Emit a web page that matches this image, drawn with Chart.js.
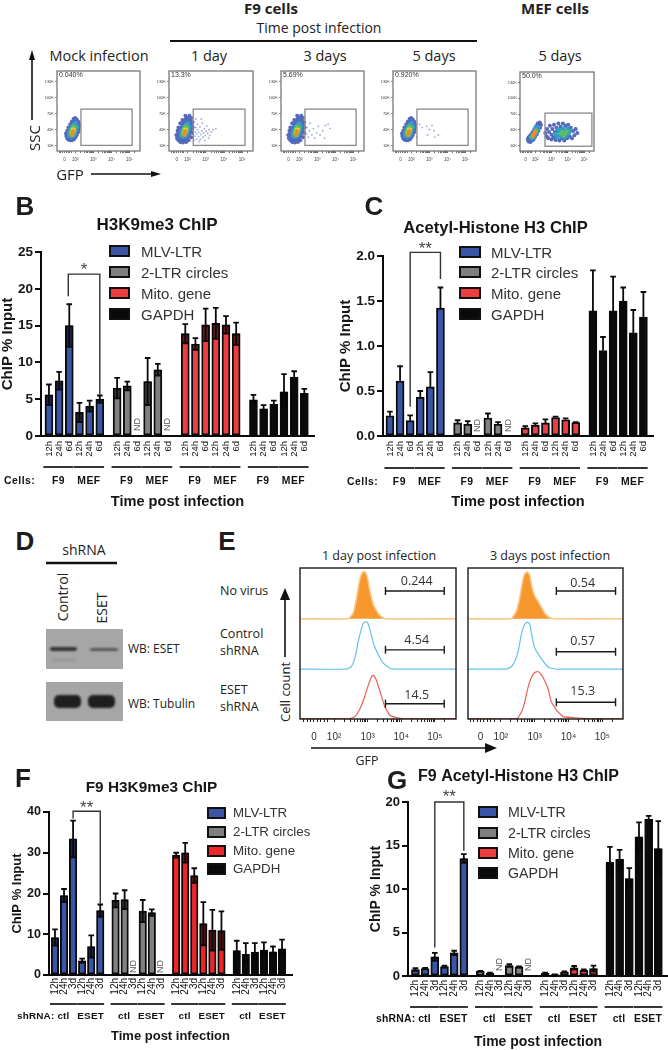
<!DOCTYPE html>
<html>
<head>
<meta charset="utf-8">
<title>ChIP and flow panels</title>
<script src="https://cdn.jsdelivr.net/npm/chart.js@4"></script>
<style>
    html, body { margin: 0; padding: 0; background: #fff; }
    #page { position: relative; width: 668px; height: 1050px; overflow: hidden; background: #fff; }
    #page canvas { position: absolute; }
    #page svg { position: absolute; left: 0; top: 0; }
    .t { position: absolute; white-space: nowrap; color: #222; font-family: "Open Sans", sans-serif; line-height: 1; }
    .swatch { position: absolute; box-sizing: border-box; border: 2px solid #111; }
    .blot { position: absolute; background: #a6a6a6; }
    .band { position: absolute; background: #222; filter: blur(1.2px); }
</style>
</head>
<body>
<div id="page"></div>
<script>
// ============================================
// DATA
// ============================================

const seriesNames = ['MLV-LTR', '2-LTR circles', 'Mito. gene', 'GAPDH'];

// Panel B - H3K9me3 ChIP
const bMlv = [5.6, 7.5, 15.0, 3.2, 4.05, 5.0];
const bMlvErr = [1.4, 1.2, 2.9, 1.3, 0.75, 0.5];
const bLtr = [6.5, 6.8, null, 7.4, 9.0, null];
const bLtrErr = [1.4, 0.6, null, 3.2, 0.8, null];
const bMito = [13.9, 12.5, 15.1, 15.3, 15.1, 13.9];
const bMitoErr = [1.3, 0.8, 2.2, 2.1, 1.2, 1.5];
const bGapdh = [4.9, 3.7, 4.3, 6.0, 8.0, 5.8];
const bGapdhErr = [0.7, 0.5, 0.5, 2.4, 0.8, 0.6];

// Panel C - Acetyl-Histone H3 ChIP
const cMlv = [0.225, 0.61, 0.17, 0.43, 0.545, 1.42];
const cMlvErr = [0.045, 0.165, 0.06, 0.07, 0.165, 0.23];
const cLtr = [0.145, 0.13, null, 0.2, 0.13, null];
const cLtrErr = [0.03, 0.035, null, 0.05, 0.025, null];
const cMito = [0.09, 0.12, 0.145, 0.205, 0.18, 0.15];
const cMitoErr = [0.02, 0.02, 0.04, 0.01, 0.015, 0.005];
const cGapdh = [1.39, 0.95, 1.39, 1.5, 1.145, 1.32];
const cGapdhErr = [0.45, 0.15, 0.38, 0.15, 0.255, 0.28];

// Panel F - F9 H3K9me3 ChIP
const fMlv = [9.2, 19.5, 33.4, 3.5, 7.0, 15.8];
const fMlvErr = [2.0, 1.6, 4.5, 0.5, 2.7, 1.5];
const fLtr = [18.3, 18.5, null, 15.7, 15.3, null];
const fLtrErr = [1.7, 2.3, null, 2.7, 0.8, null];
const fMito = [29.4, 30.0, 24.4, 12.6, 11.0, 10.9];
const fMitoErr = [0.6, 2.4, 1.8, 5.3, 5.0, 4.7];
const fGapdh = [6.0, 5.1, 5.6, 6.1, 5.7, 6.4];
const fGapdhErr = [2.4, 2.7, 2.2, 1.9, 1.3, 2.3];

// Panel G - F9 Acetyl-Histone H3 ChIP
const gMlv = [0.75, 0.85, 2.2, 1.08, 2.65, 13.5];
const gMlvErr = [0.15, 0.07, 0.45, 0.12, 0.25, 0.5];
const gLtr = [0.55, 0.3, null, 1.2, 1.05, null];
const gLtrErr = [0.05, 0.08, null, 0.15, 0.05, null];
const gMito = [0.3, 0.15, 0.45, 0.95, 0.65, 0.85];
const gMitoErr = [0.08, 0.03, 0.07, 0.2, 0.1, 0.35];
const gGapdh = [13.1, 13.4, 11.2, 16.0, 18.0, 14.65];
const gGapdhErr = [1.75, 1.1, 1.2, 1.65, 0.4, 3.15];

const timeLabels6d = ['12h', '24h', '6d', '12h', '24h', '6d'];
const timeLabels3d = ['12h', '24h', '3d', '12h', '24h', '3d'];

// Panel E - histogram traces, x is log10 of GFP
const day1NoVirusX = [2.42, 2.57, 2.67, 2.77, 2.85, 2.92, 2.99, 3.07, 3.17, 3.32, 3.51];
const day1NoVirus = [0, 12, 44, 86, 99, 100, 89, 58, 30, 10, 0];
const day1ControlX = [2.39, 2.52, 2.62, 2.72, 2.82, 2.89, 2.99, 3.07, 3.17, 3.32, 3.46, 3.66, 3.81];
const day1Control = [0, 6, 23, 59, 87, 100, 100, 84, 55, 30, 13, 2, 0];
const day1EsetX = [2.47, 2.62, 2.77, 2.89, 3.02, 3.12, 3.17, 3.24, 3.37, 3.51, 3.66, 3.86, 4.11];
const day1Eset = [0, 4, 21, 42, 71, 90, 92, 85, 57, 25, 7, 2, 0];
const day3NoVirusX = [2.31, 2.46, 2.56, 2.64, 2.70, 2.78, 2.85, 2.92, 3.0, 3.15, 3.30, 3.44, 3.59];
const day3NoVirus = [0, 16, 45, 78, 95, 100, 93, 67, 49, 31, 12, 3, 0];
const day3ControlX = [2.16, 2.31, 2.41, 2.51, 2.61, 2.70, 2.78, 2.85, 2.92, 3.0, 3.15, 3.30, 3.44, 3.64];
const day3Control = [0, 5, 16, 37, 75, 95, 100, 97, 70, 45, 27, 12, 3, 0];
const day3EsetX = [2.48, 2.61, 2.70, 2.80, 2.90, 3.0, 3.10, 3.20, 3.30, 3.39, 3.49, 3.64, 3.84, 4.13, 4.58];
const day3Eset = [0, 14, 33, 65, 87, 98, 100, 93, 80, 65, 36, 18, 4, 2, 0];

const gfpTickValues = [1.4, 2, 3, 4, 5];
const gfpTickLabels = ['0', '10²', '10³', '10⁴', '10⁵'];
const gfpMinorTicks = [1.1, 1.2, 1.3, 1.5, 1.6, 1.7, 1.8, 2.3, 2.48, 2.6, 2.7, 2.78, 2.85, 2.9, 2.95, 3.3, 3.48, 3.6, 3.7, 3.78, 3.85, 3.9, 3.95, 4.3, 4.48, 4.6, 4.7, 4.78, 4.85, 4.9, 4.95, 5.3];

// Panel A - flow plots, x is log10 of GFP, y is SSC in thousands
const ssCTickValues = [10, 40, 70, 100, 130];
const percentLabels = ['0.040%', '13.3%', '5.69%', '0.920%', '50.0%'];

const cloudBlue = [[1.50, 28], [1.55, 24], [1.62, 21], [1.72, 20], [1.82, 20], [1.92, 22], [2.0, 26], [2.08, 30], [2.15, 35], [2.18, 40], [2.2, 45], [2.2, 50], [2.16, 55], [2.08, 59], [1.98, 62], [1.9, 60], [1.8, 55], [1.72, 50], [1.62, 44], [1.55, 38], [1.48, 33], [1.6, 30], [1.7, 25], [1.85, 25], [2.0, 33], [2.1, 42], [2.05, 52], [1.9, 52], [1.75, 42], [1.65, 36], [1.95, 57], [2.12, 48], [1.58, 33], [1.78, 23], [1.95, 27], [2.05, 37]];
const cloudCyan = [[1.65, 28], [1.75, 27], [1.88, 28], [1.98, 33], [2.04, 40], [2.08, 46], [2.02, 52], [1.92, 50], [1.82, 46], [1.72, 40], [1.64, 34], [1.85, 35], [1.95, 42]];
const cloudGreen = [[1.75, 31], [1.85, 31], [1.93, 36], [1.97, 43], [1.9, 46], [1.82, 41], [1.75, 36]];
const cloudYellow = [[1.8, 34], [1.88, 36], [1.85, 41], [1.92, 40]];
const cloudOrange = [[1.82, 33], [1.87, 37], [1.85, 30]];
const wideBlue = [[1.38, 30], [1.42, 24], [1.45, 38], [1.5, 20], [1.5, 44], [1.6, 17], [1.6, 52], [1.72, 58], [1.75, 16], [1.88, 66], [1.92, 17], [2.05, 20], [2.1, 66], [2.2, 26], [2.25, 34], [2.28, 44], [2.26, 54], [2.2, 62]];
const day1Tail = [[2.25, 25], [2.3, 32], [2.3, 40], [2.32, 48], [2.35, 55], [2.4, 28], [2.42, 36], [2.45, 44], [2.5, 22], [2.5, 32], [2.55, 40], [2.55, 50], [2.6, 27], [2.62, 35], [2.68, 45], [2.7, 22], [2.72, 31], [2.78, 38], [2.8, 52], [2.85, 26], [2.88, 34], [2.92, 42], [2.98, 29], [3.02, 37], [3.05, 47], [3.1, 33], [3.18, 40], [3.22, 29], [3.3, 36], [3.4, 40], [3.55, 42], [2.35, 20], [2.65, 18], [2.95, 20], [3.15, 24], [2.2, 58], [2.45, 60], [2.75, 60]];
const day3Tail = [[2.25, 28], [2.3, 38], [2.3, 50], [2.4, 32], [2.42, 44], [2.5, 26], [2.55, 38], [2.6, 52], [2.7, 30], [2.78, 42], [2.85, 24], [2.95, 34], [3.05, 46], [3.15, 30], [3.3, 38], [3.45, 48], [3.6, 50], [3.7, 42], [3.4, 24], [2.2, 56]];
const day5Tail = [[2.2, 34], [2.3, 26], [2.45, 50], [2.6, 44], [2.85, 46], [3.0, 40], [3.15, 48], [3.25, 38], [3.3, 26], [2.9, 30], [3.5, 30]];

const mefBlue = [[1.55, 22], [1.6, 18], [1.7, 17], [1.8, 20], [1.9, 22], [2.0, 27], [2.1, 32], [2.2, 38], [2.3, 44], [2.35, 50], [2.28, 54], [2.15, 52], [2.05, 47], [1.95, 42], [1.85, 36], [1.75, 32], [1.65, 28], [1.58, 25], [1.72, 22], [1.85, 26], [2.0, 33], [2.15, 42], [2.25, 48],
    [2.62, 34], [2.7, 28], [2.72, 42], [2.8, 24], [2.85, 36], [2.9, 48], [3.0, 22], [3.0, 31], [3.05, 42], [3.12, 26], [3.15, 50], [3.2, 36], [3.25, 21], [3.3, 44], [3.35, 28], [3.42, 52], [3.48, 20], [3.55, 46], [3.62, 24], [3.7, 52], [3.78, 20], [3.85, 48], [3.95, 24], [4.02, 50], [4.1, 28], [4.18, 44], [4.25, 24], [4.32, 38], [4.4, 30], [4.48, 42], [4.58, 34], [3.35, 37], [3.6, 39]];
const mefCyan = [[1.72, 25], [1.82, 24], [1.92, 27], [2.02, 32], [2.12, 38], [2.18, 44], [2.08, 45], [1.98, 40], [1.85, 32],
    [3.25, 32], [3.35, 26], [3.42, 40], [3.5, 30], [3.55, 36], [3.62, 28], [3.7, 42], [3.78, 26], [3.82, 38], [3.92, 30], [3.98, 42], [4.05, 34], [4.12, 38], [3.7, 31]];
const mefGreen = [[1.82, 28], [1.9, 30], [1.98, 35], [2.05, 39], [3.58, 33], [3.68, 36], [3.75, 30], [3.85, 34], [3.92, 37]];
const mefOrange = [[1.85, 27], [1.9, 31], [1.95, 34], [2.0, 37]];

// ============================================
// PAGE HELPERS
// ============================================

const page = document.getElementById('page');
const SANS = '"Liberation Sans", Arial, sans-serif';
const INK = '#161616';

function addCanvas(left, top, width, height) {
    const canvas = document.createElement('canvas');
    canvas.width = width;
    canvas.height = height;
    canvas.style.left = left + 'px';
    canvas.style.top = top + 'px';
    canvas.style.width = width + 'px';
    canvas.style.height = height + 'px';
    page.appendChild(canvas);
    return canvas;
}

// text centred on x, y unless anchor is given
function addText(text, x, y, css, rotate, anchor) {
    const el = document.createElement('div');
    el.className = 't';
    el.textContent = text;
    el.style.left = x + 'px';
    el.style.top = y + 'px';
    el.style.transform = (anchor === 'left' ? 'translate(0,-50%)' : 'translate(-50%,-50%)') + (rotate ? ' rotate(-90deg)' : '');
    Object.assign(el.style, css || {});
    page.appendChild(el);
    return el;
}

function addBox(className, left, top, width, height, css) {
    const el = document.createElement('div');
    el.className = className;
    Object.assign(el.style, { left: left + 'px', top: top + 'px', width: width + 'px', height: height + 'px' }, css || {});
    page.appendChild(el);
    return el;
}

function addLegend(swatchX, swatchW, swatchH, textX, fontSize, rows, colors) {
    seriesNames.forEach((name, i) => {
        addBox('swatch', swatchX, rows[i] - swatchH / 2, swatchW, swatchH, { background: colors[i] });
        addText(name, textX, rows[i], { fontFamily: SANS, fontSize: fontSize + 'px', color: '#333' }, false, 'left');
    });
}

// ============================================
// BAR PANELS
// ============================================

function makeBarPanel(p) {
    const canvasLeft = p.canvasLeft;
    const canvasTop = Math.floor(p.titleY - p.titleSize / 2);
    const canvasW = 2 * (p.titleX - canvasLeft);
    const canvasH = p.plot.bottom - canvasTop + p.xHeight;
    const canvas = addCanvas(canvasLeft, canvasTop, canvasW, canvasH);

    const barPos = (group, i) => group * (5 + p.gap) + i;
    const allPos = [];
    const allLabels = [];
    p.series.forEach((s, g) => p.timeLabels.forEach((lab, i) => {
        allPos.push(barPos(g, i));
        allLabels.push(lab);
    }));
    const lastPos = barPos(3, 5);

    const extras = {
        id: 'panelExtras',
        afterDatasetsDraw(chart) {
            const { ctx, chartArea, scales: { x, y } } = chart;
            ctx.save();
            // error bars
            chart.data.datasets.forEach(ds => {
                ds.data.forEach((pt, i) => {
                    if (pt.y === null) return;
                    const px = x.getPixelForValue(pt.x);
                    const top = y.getPixelForValue(pt.y);
                    const up = y.getPixelForValue(pt.y + ds.errors[i]);
                    const low = y.getPixelForValue(pt.y - ds.errors[i]);
                    if (p.lowerBars) {
                        ctx.fillStyle = 'rgba(0,0,0,0.55)';
                        ctx.fillRect(px - p.barWidth / 2 + 1, top, p.barWidth - 2, low - top);
                    }
                    ctx.strokeStyle = '#0a0a0a';
                    ctx.lineWidth = 1.8;
                    ctx.beginPath();
                    ctx.moveTo(px, p.lowerBars ? low : top);
                    ctx.lineTo(px, up);
                    ctx.moveTo(px - 2.8, up);
                    ctx.lineTo(px + 2.8, up);
                    if (p.lowerBars) {
                        ctx.moveTo(px - 2.8, low);
                        ctx.lineTo(px + 2.8, low);
                    }
                    ctx.stroke();
                });
            });
            // not determined labels
            ctx.fillStyle = '#555';
            ctx.font = p.ndSize + 'px ' + SANS;
            ctx.textAlign = 'left';
            ctx.textBaseline = 'middle';
            chart.data.datasets.forEach(ds => {
                ds.data.forEach(pt => {
                    if (pt.y !== null) return;
                    ctx.save();
                    ctx.translate(x.getPixelForValue(pt.x), chartArea.bottom - p.ndLift);
                    ctx.rotate(-Math.PI / 2);
                    ctx.fillText('ND', 0, 0);
                    ctx.restore();
                });
            });
            // significance bracket
            const b = p.bracket;
            const bx1 = x.getPixelForValue(b.from) + b.nudge;
            const bx2 = x.getPixelForValue(b.to);
            const by = y.getPixelForValue(b.top);
            ctx.strokeStyle = '#333';
            ctx.lineWidth = 1.4;
            ctx.beginPath();
            ctx.moveTo(bx1, y.getPixelForValue(b.leftEnd));
            ctx.lineTo(bx1, by);
            ctx.lineTo(bx2, by);
            ctx.lineTo(bx2, y.getPixelForValue(b.rightEnd));
            ctx.stroke();
            ctx.fillStyle = '#444';
            ctx.font = '17px ' + SANS;
            ctx.textAlign = 'center';
            ctx.fillText(b.label, (bx1 + bx2) / 2, by - b.labelLift);
            // group underlines and labels
            ctx.fillStyle = '#111';
            ctx.font = 'bold ' + p.groupSize + 'px ' + SANS;
            ctx.letterSpacing = p.groupSpacing + 'px';
            p.series.forEach((s, g) => {
                p.subGroups.forEach((name, k) => {
                    const x1 = x.getPixelForValue(barPos(g, k * 3) - 0.55);
                    const x2 = x.getPixelForValue(barPos(g, k * 3 + 2) + 0.42);
                    ctx.strokeStyle = '#111';
                    ctx.lineWidth = 1.7;
                    ctx.beginPath();
                    ctx.moveTo(x1, chartArea.bottom + p.ruleY);
                    ctx.lineTo(x2, chartArea.bottom + p.ruleY);
                    ctx.stroke();
                    ctx.fillText(name, (x1 + x2) / 2, chartArea.bottom + p.groupY);
                });
            });
            ctx.textAlign = 'left';
            ctx.fillText(p.prefix, p.prefixX - canvasLeft, chartArea.bottom + p.groupY);
            ctx.restore();
        }
    };

    new Chart(canvas, {
        type: 'bar',
        data: {
            datasets: p.series.map((s, g) => ({
                label: seriesNames[g],
                data: s.values.map((v, i) => ({ x: barPos(g, i), y: v })),
                errors: s.errors,
                backgroundColor: p.colors[g],
                borderColor: '#0a0a0a',
                borderWidth: 1.9,
                borderSkipped: false,
                barThickness: p.barWidth,
                grouped: false
            }))
        },
        options: {
            responsive: false,
            animation: false,
            layout: { padding: { right: canvasLeft + canvasW - p.plot.right } },
            plugins: {
                legend: { display: false },
                tooltip: { enabled: false },
                title: {
                    display: true,
                    text: p.title,
                    color: INK,
                    font: { family: SANS, size: p.titleSize, weight: 'bold', lineHeight: 1 },
                    padding: { top: 0, bottom: p.plot.top - canvasTop - p.titleSize }
                }
            },
            scales: {
                x: {
                    type: 'linear',
                    offset: false,
                    min: -p.leadIn,
                    max: lastPos + p.leadOut,
                    grid: { display: false, drawTicks: false },
                    border: { color: '#0a0a0a', width: 2 },
                    ticks: {
                        autoSkip: false,
                        minRotation: 90,
                        maxRotation: 90,
                        padding: p.tickGap,
                        color: '#111',
                        font: { family: SANS, size: p.xTickSize },
                        callback: (v, i) => allLabels[i]
                    },
                    afterBuildTicks: s => { s.ticks = allPos.map(v => ({ value: v })); },
                    afterFit: s => {
                        s.height = p.xHeight;
                        s.paddingLeft = s.paddingRight = 0;
                    },
                    title: {
                        display: true,
                        text: 'Time post infection',
                        color: INK,
                        padding: 0,
                        font: { family: SANS, size: p.xTitleSize, weight: 'bold', lineHeight: 1 }
                    }
                },
                y: {
                    min: 0,
                    max: p.yMax,
                    grid: { drawOnChartArea: false, tickLength: 6, lineWidth: 2, color: '#0a0a0a' },
                    border: { color: '#0a0a0a', width: 2 },
                    ticks: {
                        stepSize: p.yStep,
                        padding: 2,
                        color: INK,
                        font: { family: SANS, size: p.yTickSize, weight: 'bold' },
                        callback: v => (p.yDecimals ? v.toFixed(p.yDecimals) : v)
                    },
                    afterFit: s => {
                        s.width = p.plot.left - canvasLeft;
                        s.paddingTop = s.paddingBottom = 0;
                    },
                    title: {
                        display: true,
                        text: 'ChIP % Input',
                        color: INK,
                        padding: 0,
                        font: { family: SANS, size: p.yTitleSize, weight: 'bold', lineHeight: 1 }
                    }
                }
            }
        },
        plugins: [extras]
    });
}

const barColors = ['#3a55a6', '#808080', '#ee3d42', '#0a0a0a'];
const barColorsF = ['#3a55a6', '#808080', '#ee2527', '#0a0a0a'];

makeBarPanel({
    title: 'H3K9me3 ChIP', titleX: 169, titleY: 226, titleSize: 17,
    canvasLeft: 0, plot: { left: 41, top: 252, right: 314, bottom: 436 },
    xHeight: 73, xTitleSize: 14.6, yTitleSize: 15, yTickSize: 13.5, xTickSize: 9.5,
    yMax: 25, yStep: 5, yDecimals: 0,
    gap: 1.7, leadIn: 0.78, leadOut: 0.95, barWidth: 8, tickGap: 5,
    timeLabels: timeLabels6d, subGroups: ['F9', 'MEF'], prefix: 'Cells:', prefixX: 4,
    ruleY: 31, groupY: 45.5, groupSize: 10.4, groupSpacing: 0.5,
    ndSize: 9, ndLift: 5, lowerBars: true, colors: barColors,
    bracket: { from: 2, to: 5, top: 22, leftEnd: 19, rightEnd: 5.6, label: '*', labelLift: 4, nudge: -1 },
    series: [
        { values: bMlv, errors: bMlvErr }, { values: bLtr, errors: bLtrErr },
        { values: bMito, errors: bMitoErr }, { values: bGapdh, errors: bGapdhErr }
    ]
});

makeBarPanel({
    title: 'Acetyl-Histone H3 ChIP', titleX: 507, titleY: 229, titleSize: 16.6,
    canvasLeft: 338, plot: { left: 383, top: 256, right: 653, bottom: 436 },
    xHeight: 73, xTitleSize: 14.6, yTitleSize: 15, yTickSize: 13.5, xTickSize: 9.5,
    yMax: 2, yStep: 0.5, yDecimals: 1,
    gap: 1.7, leadIn: 0.69, leadOut: 0.95, barWidth: 8, tickGap: 5,
    timeLabels: timeLabels6d, subGroups: ['F9', 'MEF'], prefix: 'Cells:', prefixX: 347,
    ruleY: 32, groupY: 46, groupSize: 10.4, groupSpacing: 0.5,
    ndSize: 9, ndLift: 4, lowerBars: false, colors: barColors,
    bracket: { from: 2, to: 5, top: 2.04, leftEnd: 0.325, rightEnd: 1.745, label: '**', labelLift: 3, nudge: 0 },
    series: [
        { values: cMlv, errors: cMlvErr }, { values: cLtr, errors: cLtrErr },
        { values: cMito, errors: cMitoErr }, { values: cGapdh, errors: cGapdhErr }
    ]
});

makeBarPanel({
    title: 'F9 H3K9me3 ChIP', titleX: 162, titleY: 788, titleSize: 15.4,
    canvasLeft: 11, plot: { left: 49, top: 812, right: 292, bottom: 975 },
    xHeight: 68, xTitleSize: 13, yTitleSize: 13, yTickSize: 12.5, xTickSize: 10,
    yMax: 40, yStep: 10, yDecimals: 0,
    gap: 1.69, leadIn: 0.66, leadOut: 1.1, barWidth: 7.5, tickGap: 3,
    timeLabels: timeLabels3d, subGroups: ['ctl', 'ESET'], prefix: 'shRNA:', prefixX: 17,
    ruleY: 29, groupY: 41, groupSize: 9.9, groupSpacing: 0.2,
    ndSize: 9, ndLift: 2, lowerBars: true, colors: barColorsF,
    bracket: { from: 2, to: 5, top: 40.2, leftEnd: 38.4, rightEnd: 17.5, label: '**', labelLift: 3, nudge: 0 },
    series: [
        { values: fMlv, errors: fMlvErr }, { values: fLtr, errors: fLtrErr },
        { values: fMito, errors: fMitoErr }, { values: fGapdh, errors: fGapdhErr }
    ]
});

makeBarPanel({
    title: 'F9 Acetyl-Histone H3 ChIP', titleX: 530, titleY: 777, titleSize: 16,
    canvasLeft: 369, plot: { left: 408, top: 802, right: 668, bottom: 976 },
    xHeight: 73, xTitleSize: 14, yTitleSize: 14, yTickSize: 13, xTickSize: 10,
    yMax: 20, yStep: 5, yDecimals: 0,
    gap: 1.7, leadIn: 0.77, leadOut: 1.0, barWidth: 8, tickGap: 4,
    timeLabels: timeLabels3d, subGroups: ['ctl', 'ESET'], prefix: 'shRNA:', prefixX: 376,
    ruleY: 31, groupY: 43.5, groupSize: 10.4, groupSpacing: 0.2,
    ndSize: 9, ndLift: 5, lowerBars: true, colors: barColors,
    bracket: { from: 2, to: 5, top: 20, leftEnd: 3.27, rightEnd: 14.4, label: '**', labelLift: 5, nudge: 0 },
    series: [
        { values: gMlv, errors: gMlvErr }, { values: gLtr, errors: gLtrErr },
        { values: gMito, errors: gMitoErr }, { values: gGapdh, errors: gGapdhErr }
    ]
});

addLegend(109, 21, 12, 141, 15, [250.5, 272, 293, 314], barColors);
addLegend(459, 22, 12, 491, 15, [252, 272, 293, 314], barColors);
addLegend(207, 19, 12, 233, 13.3, [813, 832, 850.5, 869], barColorsF);
addLegend(478, 20, 12, 508, 14.2, [812, 832.5, 852.5, 873], barColors);

// ============================================
// PANEL A - FLOW PLOTS
// ============================================

function toPoints(list) {
    return list.map(pair => ({ x: pair[0], y: pair[1] }));
}

function makeFlowPlot(p) {
    const gutter = 14;
    const canvas = addCanvas(p.left - gutter, p.top - 4, p.width + gutter + 4, p.height + 4 + 16);
    canvas.style.filter = 'blur(0.35px)';
    const layer = (list, color, radius) => ({
        data: toPoints(list),
        backgroundColor: color,
        borderWidth: 0,
        pointRadius: radius
    });
    const frame = {
        id: 'flowFrame',
        afterDatasetsDraw(chart) {
            const { ctx, chartArea: a, scales: { x, y } } = chart;
            ctx.save();
            ctx.strokeStyle = '#777';
            ctx.lineWidth = 1.3;
            ctx.strokeRect(a.left, a.top, a.right - a.left, a.bottom - a.top);
            ctx.strokeStyle = '#8a8a8a';
            ctx.strokeRect(x.getPixelForValue(p.gateX[0]), y.getPixelForValue(p.gateY[1]),
                x.getPixelForValue(p.gateX[1]) - x.getPixelForValue(p.gateX[0]),
                y.getPixelForValue(p.gateY[0]) - y.getPixelForValue(p.gateY[1]));
            ctx.fillStyle = '#333';
            ctx.font = '7px ' + SANS;
            ctx.textBaseline = 'middle';
            ctx.fillText(p.percent, a.left + 2, a.top + 4.5);
            ctx.restore();
        }
    };
    new Chart(canvas, {
        type: 'scatter',
        data: {
            // first dataset draws on top, so the dense core comes first
            datasets: [
                layer(p.orange, '#ee8a2c', 1.9),
                layer(p.yellow, '#dccf3c', 2.0),
                layer(p.green, '#62bb62', 2.3),
                layer(p.cyan, '#2f9fc4', 2.3),
                layer(p.blue, '#5468bc', 2.0),
                layer(p.tail, 'rgba(96,112,196,0.6)', 0.9)
            ]
        },
        options: {
            responsive: false,
            animation: false,
            layout: { padding: { top: 4, right: 4 } },
            plugins: { legend: { display: false }, tooltip: { enabled: false }, title: { display: false } },
            scales: {
                x: {
                    type: 'linear',
                    min: p.xRange[0],
                    max: p.xRange[1],
                    grid: { drawOnChartArea: false, tickLength: 2, color: '#333', lineWidth: 0.7 },
                    border: { display: false },
                    ticks: {
                        autoSkip: false,
                        maxRotation: 0,
                        padding: 4,
                        color: '#444',
                        font: { family: SANS, size: 4.5 },
                        callback: v => {
                            const i = gfpTickValues.indexOf(v);
                            return i >= 0 ? gfpTickLabels[i] : '';
                        }
                    },
                    afterBuildTicks: s => {
                        s.ticks = gfpTickValues.concat(gfpMinorTicks).map(v => ({ value: v }));
                    },
                    afterFit: s => {
                        s.height = 16;
                        s.paddingLeft = s.paddingRight = 0;
                    }
                },
                y: {
                    min: 0,
                    max: 150,
                    grid: { drawOnChartArea: false, tickLength: 2, color: '#444', lineWidth: 0.7 },
                    border: { display: false },
                    ticks: {
                        padding: 1,
                        color: '#444',
                        font: { family: SANS, size: 4 },
                        callback: v => v + 'K'
                    },
                    afterBuildTicks: s => { s.ticks = ssCTickValues.map(v => ({ value: v })); },
                    afterFit: s => {
                        s.width = gutter;
                        s.paddingTop = s.paddingBottom = 0;
                    }
                }
            }
        },
        plugins: [frame]
    });
}

const f9Gate = { gateX: [2.31, 5.15], gateY: [10.5, 78.5], xRange: [0.98, 5.59] };
makeFlowPlot(Object.assign({ left: 57, top: 71, width: 83, height: 80, percent: percentLabels[0], tail: [], blue: cloudBlue, cyan: cloudCyan, green: cloudGreen, yellow: cloudYellow, orange: cloudOrange }, f9Gate));
makeFlowPlot(Object.assign({ left: 169, top: 71, width: 84, height: 80, percent: percentLabels[1], tail: day1Tail, blue: cloudBlue.concat(wideBlue), cyan: cloudCyan, green: cloudGreen, yellow: cloudYellow, orange: cloudOrange }, f9Gate));
makeFlowPlot(Object.assign({ left: 281, top: 71, width: 83, height: 80, percent: percentLabels[2], tail: day3Tail, blue: cloudBlue.concat(wideBlue), cyan: cloudCyan, green: cloudGreen, yellow: cloudYellow, orange: cloudOrange }, f9Gate));
makeFlowPlot(Object.assign({ left: 393, top: 71, width: 83, height: 80, percent: percentLabels[3], tail: day5Tail, blue: cloudBlue, cyan: cloudCyan, green: cloudGreen, yellow: cloudYellow, orange: cloudOrange }, f9Gate));
makeFlowPlot({ left: 520, top: 72, width: 74, height: 79, percent: percentLabels[4], tail: [], blue: mefBlue, cyan: mefCyan, green: mefGreen, yellow: [], orange: mefOrange, gateX: [2.6, 5.47], gateY: [9, 72], xRange: [1.07, 5.6] });

// ============================================
// PANEL E - HISTOGRAMS
// ============================================

function makeHistogram(p) {
    const canvas = addCanvas(p.left - 2, 566, p.width + 4, 153 + 26);
    const bases = [213, 106, 1];
    const trace = (xs, counts, row, color, filled) => ({
        data: [{ x: p.xRange[0], y: bases[row] }]
            .concat(xs.map((x, i) => ({ x: x, y: bases[row] + counts[i] })))
            .concat([{ x: p.xRange[1], y: bases[row] }]),
        borderColor: color,
        borderWidth: filled ? 1.6 : 1.2,
        pointRadius: 0,
        tension: 0.1,
        fill: filled ? { value: bases[row] } : false,
        backgroundColor: '#f6982e'
    });
    const gates = {
        id: 'histGates',
        afterDatasetsDraw(chart) {
            const { ctx, chartArea: a, scales: { x, y } } = chart;
            ctx.save();
            ctx.strokeStyle = '#1a1a1a';
            ctx.lineWidth = 1.4;
            ctx.strokeRect(a.left, a.top, a.right - a.left, a.bottom - a.top);
            ctx.fillStyle = '#333';
            ctx.font = '12.5px "Open Sans", sans-serif';
            ctx.textAlign = 'center';
            ctx.textBaseline = 'middle';
            p.gateY.forEach((g, i) => {
                const x1 = x.getPixelForValue(p.gateX[0]);
                const x2 = x.getPixelForValue(p.gateX[1]);
                const py = y.getPixelForValue(g);
                ctx.beginPath();
                ctx.moveTo(x1, py);
                ctx.lineTo(x2, py);
                ctx.moveTo(x1, py - 4);
                ctx.lineTo(x1, py + 4);
                ctx.moveTo(x2, py - 4);
                ctx.lineTo(x2, py + 4);
                ctx.stroke();
                ctx.fillText(p.gateLabels[i], x.getPixelForValue(p.labelX), y.getPixelForValue(p.labelY[i]));
            });
            ctx.restore();
        }
    };
    new Chart(canvas, {
        type: 'line',
        data: {
            datasets: [
                trace(p.noVirusX, p.noVirus, 0, '#fbc78a', true),
                trace(p.controlX, p.control, 1, '#63c3ec', false),
                trace(p.esetX, p.eset, 2, '#ee6152', false)
            ]
        },
        options: {
            responsive: false,
            animation: false,
            layout: { padding: { left: 2, right: 2, top: 2 } },
            plugins: { legend: { display: false }, tooltip: { enabled: false }, title: { display: false } },
            scales: {
                x: {
                    type: 'linear',
                    min: p.xRange[0],
                    max: p.xRange[1],
                    grid: { drawOnChartArea: false, tickLength: 3, color: '#222', lineWidth: 1 },
                    border: { display: false },
                    ticks: {
                        autoSkip: false,
                        maxRotation: 0,
                        padding: 9,
                        color: '#333',
                        font: { family: SANS, size: 10 },
                        callback: v => {
                            const i = gfpTickValues.indexOf(v);
                            return i >= 0 ? gfpTickLabels[i] : '';
                        }
                    },
                    afterBuildTicks: s => {
                        s.ticks = gfpTickValues.concat(gfpMinorTicks).map(v => ({ value: v }));
                    },
                    afterFit: s => {
                        s.height = 26;
                        s.paddingLeft = s.paddingRight = 0;
                    }
                },
                y: { display: false, min: 0, max: 321 }
            }
        },
        plugins: [gates]
    });
}

makeHistogram({
    left: 300, width: 156, xRange: [0.985, 5.63],
    noVirusX: day1NoVirusX, noVirus: day1NoVirus, controlX: day1ControlX, control: day1Control, esetX: day1EsetX, eset: day1Eset,
    gateX: [3.53, 5.28], gateY: [272, 147, 32.5], gateLabels: ['0.244', '4.54', '14.5'], labelX: 4.46, labelY: [292, 167, 51]
});
makeHistogram({
    left: 468, width: 155, xRange: [1.03, 5.61],
    noVirusX: day3NoVirusX, noVirus: day3NoVirus, controlX: day3ControlX, control: day3Control, esetX: day3EsetX, eset: day3Eset,
    gateX: [3.64, 5.39], gateY: [272, 143, 35.5], gateLabels: ['0.54', '0.57', '15.3'], labelX: 4.42, labelY: [289, 164, 58]
});

// ============================================
// PANEL D - WESTERN BLOTS
// ============================================

addBox('blot', 46, 629, 77, 40);
addBox('band', 50, 646.5, 27, 4.5, { borderRadius: '2px', background: '#333' });
addBox('band', 90, 648, 28, 2.5, { borderRadius: '2px', background: '#555' });
addBox('band', 52, 659, 24, 1.5, { background: '#959595' });
addBox('blot', 46, 682, 77, 39);
addBox('band', 54, 694.5, 27, 13, { borderRadius: '5px', background: '#1e1e1e' });
addBox('band', 88, 695, 27, 12.5, { borderRadius: '5px', background: '#1e1e1e' });

// ============================================
// STATIC LABELS AND ARROWS
// ============================================

const LETTER = { fontFamily: SANS, fontWeight: 'bold', fontSize: '26px', color: '#1c1c1c' };
addText('B', 25, 206, LETTER);
addText('C', 374, 206, LETTER);
addText('D', 25, 541, LETTER);
addText('E', 227, 541, LETTER);
addText('F', 23, 778, LETTER);
addText('G', 397, 780, LETTER);

const BOLD_HEAD = { fontWeight: '700', fontSize: '15px' };
addText('F9 cells', 271, 8, BOLD_HEAD);
addText('MEF cells', 555, 8, BOLD_HEAD);
addText('Time post infection', 319, 28, { fontSize: '14px' });
addText('Mock infection', 99, 56, { fontSize: '14.5px' });
addText('1 day', 209, 56, { fontSize: '14.5px' });
addText('3 days', 325, 56, { fontSize: '14.5px' });
addText('5 days', 434, 56, { fontSize: '14.5px' });
addText('5 days', 560, 56, { fontSize: '14.5px' });
addText('SSC', 34, 138, { fontSize: '15px' }, true);
addText('GFP', 70, 174, { fontSize: '15px' });

addText('shRNA', 84, 550, { fontSize: '14px' });
addText('Control', 63, 597, { fontSize: '14px' }, true);
addText('ESET', 102, 608, { fontSize: '14px' }, true);
addText('WB: ESET', 128, 649, { fontSize: '12px' }, false, 'left');
addText('WB: Tubulin', 128, 704, { fontSize: '12px' }, false, 'left');

addText('1 day post infection', 379, 556, { fontSize: '12.5px' });
addText('3 days post infection', 550, 556, { fontSize: '12.5px' });
addText('No virus', 220, 591, { fontSize: '12.5px' }, false, 'left');
addText('Control', 220, 634, { fontSize: '12.5px' }, false, 'left');
addText('shRNA', 220, 651, { fontSize: '12.5px' }, false, 'left');
addText('ESET', 220, 690, { fontSize: '12.5px' }, false, 'left');
addText('shRNA', 220, 707, { fontSize: '12.5px' }, false, 'left');
addText('Cell count', 285, 692, { fontSize: '13px' }, true);
addText('GFP', 367, 761, { fontSize: '12.5px' });

page.insertAdjacentHTML('beforeend', `
<svg width="668" height="1050" fill="none" stroke="#111">
  <line x1="170" y1="41" x2="477" y2="41" stroke-width="2"/>
  <line x1="32" y1="120" x2="32" y2="58" stroke-width="1.6"/>
  <polygon points="32,50 29,60 35,60" fill="#111" stroke="none"/>
  <line x1="91" y1="174" x2="154" y2="174" stroke-width="1.6"/>
  <polygon points="161,174 151,171 151,177" fill="#111" stroke="none"/>
  <line x1="46" y1="563" x2="117" y2="563" stroke-width="2.4"/>
  <line x1="285" y1="657" x2="285" y2="596" stroke-width="1.6"/>
  <polygon points="285,588 280,600 290,600" fill="#111" stroke="none"/>
  <line x1="311" y1="748" x2="488" y2="748" stroke-width="1.6"/>
  <polygon points="497,748 485,743 485,753" fill="#111" stroke="none"/>
</svg>`);
</script>
</body>
</html>
